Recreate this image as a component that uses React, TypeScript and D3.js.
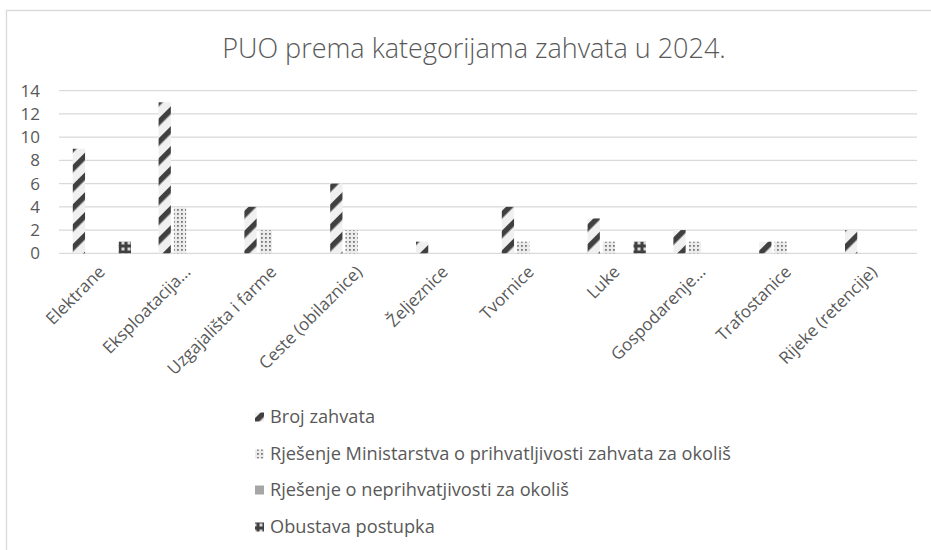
import React from "react";
import * as d3 from "d3";

const categories = [
  "Elektrane",
  "Eksploatacija…",
  "Uzgajališta i farme",
  "Ceste (obilaznice)",
  "Željeznice",
  "Tvornice",
  "Luke",
  "Gospodarenje…",
  "Trafostanice",
  "Rijeke (retencije)",
];
const seriesNames = [
  "Broj zahvata",
  "Rješenje Ministarstva o prihvatljivosti zahvata za okoliš",
  "Rješenje o neprihvatjivosti za okoliš",
  "Obustava postupka",
];
const brojZahvata = [9, 13, 4, 6, 1, 4, 3, 2, 1, 2];
const rjesenjeMinistarstva = [0, 4, 2, 2, 0, 1, 1, 1, 1, 0];
const rjesenjeNeprihvatljivosti = [0, 0, 0, 0, 0, 0, 0, 0, 0, 0];
const obustavaPostupka = [1, 0, 0, 0, 0, 0, 1, 0, 0, 0];
const yTicks = [0, 2, 4, 6, 8, 10, 12, 14];
const title = "PUO prema kategorijama zahvata u 2024.";

const seriesValues = [brojZahvata, rjesenjeMinistarstva, rjesenjeNeprihvatljivosti, obustavaPostupka];
const fills = ["url(#pStripe)", "url(#pDots)", "#a6a6a6", "url(#pCheck)"];
const FONT = "'Open Sans', sans-serif";
const TXT = "#595959";

export default function App() {
  const left = 59;
  const right = 917;
  const top = 90.7;
  const bottom = 253.3;
  const x0 = d3.scaleBand<string>().domain(categories).range([left, right]).padding(0);
  const bw = x0.bandwidth();
  const x1 = d3
    .scaleBand<number>()
    .domain([0, 1, 2, 3])
    .range([13.8, bw - 13.8])
    .paddingInner(0.2)
    .paddingOuter(0);
  const y = d3.scaleLinear().domain([0, 14]).range([bottom, top]);

  const legendY = [417, 454, 490, 527];

  return (
    <svg width={931} height={550} style={{ position: "absolute", left: 0, top: 0, background: "#fff" }}>
      <defs>
        <pattern id="pStripe" patternUnits="userSpaceOnUse" width={14} height={14} patternTransform="rotate(45)">
          <rect width={14} height={14} fill="#f0f0f0" />
          <rect width={5.5} height={14} fill="#404040" />
        </pattern>
        <pattern id="pDots" patternUnits="userSpaceOnUse" width={4} height={4}>
          <rect width={4} height={4} fill="#ececec" />
          <rect x={1} y={1} width={1.8} height={1.8} fill="#7a7a7a" />
        </pattern>
        <pattern id="pCheck" patternUnits="userSpaceOnUse" width={6} height={6}>
          <rect width={6} height={6} fill="#404040" />
          <rect x={1.5} y={1.5} width={3} height={3} fill="#d9d9d9" />
        </pattern>
      </defs>
      <rect x={6.5} y={10.5} width={940} height={560} fill="#fff" stroke="#d9d9d9" strokeWidth={1.3} />
      <text x={474} y={58} textAnchor="middle" fontFamily={FONT} fontSize={27} fontWeight={300} fill={TXT}>
        {title}
      </text>
      {yTicks.map((t) => (
        <g key={t}>
          <line x1={left} x2={right} y1={y(t)} y2={y(t)} stroke="#d9d9d9" strokeWidth={1.3} />
          <text x={40} y={y(t)} dy="0.35em" textAnchor="end" fontFamily={FONT} fontSize={17} fill={TXT}>
            {t}
          </text>
        </g>
      ))}
      {categories.map((c, ci) => (
        <g key={c}>
          {seriesValues.map((vals, si) =>
            vals[ci] > 0 ? (
              <rect
                key={si}
                x={(x0(c) as number) + (x1(si) as number)}
                y={y(vals[ci])}
                width={x1.bandwidth()}
                height={y(0) - y(vals[ci])}
                fill={fills[si]}
              />
            ) : null
          )}
        </g>
      ))}
      {categories.map((c) => {
        const cx = (x0(c) as number) + bw / 2 + 4;
        const cy = 273;
        return (
          <text
            key={c}
            transform={`translate(${cx},${cy}) rotate(-45)`}
            textAnchor="end"
            fontFamily={FONT}
            fontSize={17}
            fill={TXT}
          >
            {c}
          </text>
        );
      })}
      {seriesNames.map((s, i) => (
        <g key={s}>
          <rect x={255} y={legendY[i] - 4.5} width={9} height={9} fill={fills[i]} />
          <text x={270} y={legendY[i]} dy="0.35em" fontFamily={FONT} fontSize={18.2} fill={TXT}>
            {s}
          </text>
        </g>
      ))}
    </svg>
  );
}
